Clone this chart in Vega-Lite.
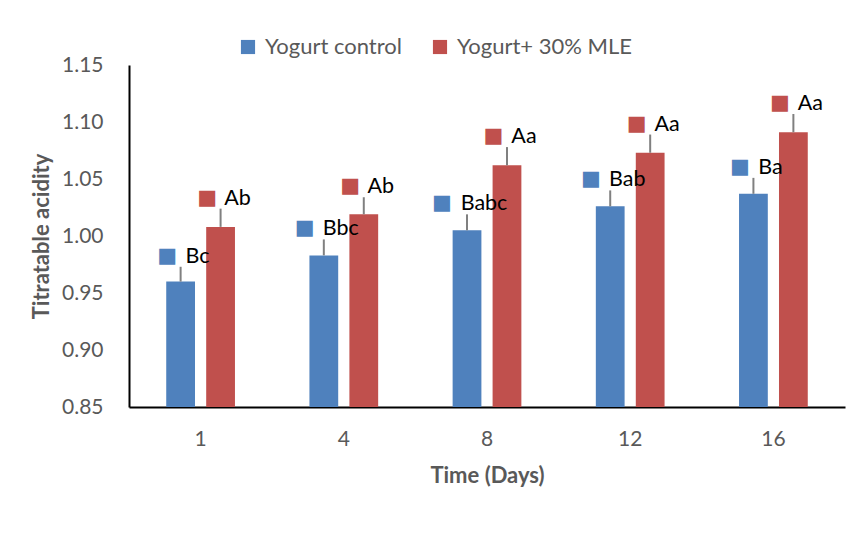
{
  "$schema": "https://vega.github.io/schema/vega-lite/v6.json",
  "width": 716,
  "height": 342,
  "autosize": "none",
  "padding": {"left": 129, "top": 65, "right": 10, "bottom": 137},
  "background": "white",
  "config": {
    "view": {"stroke": null},
    "font": "Lato",
    "axis": {"grid": false, "ticks": false, "tickSize": 0, "domainColor": "black", "domainWidth": 2, "labelColor": "#595959", "titleColor": "#595959", "labelFont": "Lato", "titleFont": "Lato", "labelFontSize": 21, "titleFontSize": 22, "titleFontWeight": "bold"}
  },
  "data": {
    "values": [
      {"day": "1", "series": "Yogurt control", "value": 0.960, "upper": 0.973, "label": "Bc"},
      {"day": "1", "series": "Yogurt+ 30% MLE", "value": 1.008, "upper": 1.024, "label": "Ab"},
      {"day": "4", "series": "Yogurt control", "value": 0.983, "upper": 0.997, "label": "Bbc"},
      {"day": "4", "series": "Yogurt+ 30% MLE", "value": 1.019, "upper": 1.034, "label": "Ab"},
      {"day": "8", "series": "Yogurt control", "value": 1.005, "upper": 1.019, "label": "Babc"},
      {"day": "8", "series": "Yogurt+ 30% MLE", "value": 1.062, "upper": 1.078, "label": "Aa"},
      {"day": "12", "series": "Yogurt control", "value": 1.026, "upper": 1.040, "label": "Bab"},
      {"day": "12", "series": "Yogurt+ 30% MLE", "value": 1.073, "upper": 1.089, "label": "Aa"},
      {"day": "16", "series": "Yogurt control", "value": 1.037, "upper": 1.051, "label": "Ba"},
      {"day": "16", "series": "Yogurt+ 30% MLE", "value": 1.091, "upper": 1.107, "label": "Aa"}
    ]
  },
  "encoding": {
    "x": {"field": "day", "type": "nominal", "sort": ["1", "4", "8", "12", "16"],
      "scale": {"paddingInner": 0.52, "paddingOuter": 0.26},
      "axis": {"title": "Time (Days)", "labelAngle": 0, "labelPadding": 21, "titlePadding": 16}},
    "xOffset": {"field": "series", "type": "nominal", "scale": {"paddingInner": 0.28, "paddingOuter": 0}}
  },
  "layer": [
    {
      "mark": {"type": "bar"},
      "encoding": {
        "y": {"field": "value", "type": "quantitative",
          "scale": {"domain": [0.85, 1.15], "zero": false, "nice": false},
          "axis": {"title": "Titratable acidity", "values": [0.85, 0.9, 0.95, 1.0, 1.05, 1.1, 1.15], "format": ".2f", "labelPadding": 26, "titlePadding": 8}},
        "y2": {"datum": 0.85},
        "color": {"field": "series", "type": "nominal",
          "scale": {"domain": ["Yogurt control", "Yogurt+ 30% MLE"], "range": ["#4F81BD", "#C0504D"]},
          "legend": {"title": null, "orient": "none", "direction": "horizontal", "legendX": 108, "legendY": -29,
            "symbolType": "square", "symbolSize": 200, "symbolStrokeWidth": 0, "labelFontSize": 22, "labelColor": "#595959", "labelFont": "Lato", "labelLimit": 400, "columnPadding": 27, "labelOffset": 6}}
      }
    },
    {
      "mark": {"type": "rule", "color": "#808080", "strokeWidth": 2},
      "encoding": {
        "y": {"field": "value", "type": "quantitative"},
        "y2": {"field": "upper"}
      }
    },
    {
      "mark": {"type": "text", "align": "center", "baseline": "middle", "dx": 17, "dy": -10, "fontSize": 21.5, "font": "Lato", "color": "black"},
      "encoding": {
        "y": {"field": "upper", "type": "quantitative"},
        "text": {"field": "label"}
      }
    },
    {
      "mark": {"type": "text", "align": "center", "baseline": "middle", "dx": {"expr": "-2 - length(datum.label) * 5.75"}, "dy": -11, "fontSize": 21, "font": "DejaVu Sans"},
      "encoding": {
        "y": {"field": "upper", "type": "quantitative"},
        "text": {"value": "■"},
        "color": {"field": "series", "type": "nominal", "legend": null}
      }
    }
  ]
}
